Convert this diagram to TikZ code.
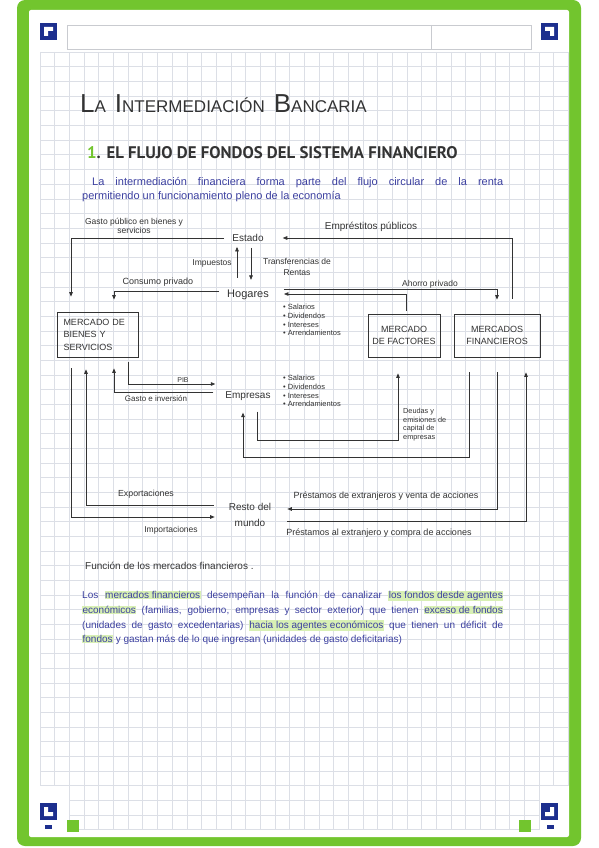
\documentclass[tikz,border=0pt]{standalone}
\usepackage{fontspec}
\setmainfont{Liberation Sans}
\newfontfamily\encabezado{PT Sans}
\usetikzlibrary{arrows.meta,calc,positioning}
\definecolor{MarcoVerde}{HTML}{72C52E}
\definecolor{IconoAzul}{HTML}{1D2F8E}
\definecolor{Cuadricula}{HTML}{DCDFE6}
\definecolor{LineaCabecera}{HTML}{C9CBD0}
\definecolor{Tinta}{HTML}{333333}
\definecolor{TintaAzul}{HTML}{3C40A0}
\definecolor{Resalte}{HTML}{D8F0B4}
\newcommand\versal[2]{{\fontsize{26}{26}\selectfont #1}{\fontsize{17}{17}\selectfont #2}}
\newcommand\resalto[1]{{\setlength{\fboxsep}{0.4pt}\colorbox{Resalte}{#1}}}

\begin{document}
\begin{tikzpicture}[x=1pt,y=-1pt,
    cuadro/.style={draw=Cuadricula,line width=0.4pt},
    lugar/.style={text=Tinta,font=\fontsize{10}{16}\selectfont,
      inner xsep=8pt,inner ysep=2pt},
    mercado/.style={draw=Tinta,line width=0.8pt,text=Tinta,inner sep=0pt,
      minimum height=43pt,font=\fontsize{9}{12.5}\selectfont},
    etiqueta/.style={text=Tinta,inner sep=0pt,
      font=\fontsize{8.5}{9}\selectfont},
    flujo/.style={draw=Tinta,line width=0.7pt,
      -{Triangle[length=4.5pt,width=3.6pt]}},
    parrafo/.style={text=TintaAzul,inner sep=0pt,text width=421pt,
      align=justify,anchor=north west}]
  \useasboundingbox (0,0) rectangle (599,848);
  \fill[white] (0,0) rectangle (599,848);

  % hoja
  \fill[MarcoVerde,rounded corners=8pt] (17,0) rectangle (581,846);
  \fill[white,rounded corners=2pt] (29,10) rectangle (569,837);
  \foreach \i in {0,...,36}
    \draw[cuadro] ({40+14.67*\i},52) -- ({40+14.67*\i},785.5);
  \foreach \j in {0,...,50}
    \draw[cuadro] (40,{52+14.67*\j}) -- (568,{52+14.67*\j});
  \foreach \i in {2,...,34}
    \draw[cuadro] ({40+14.67*\i},785.5) -- ({40+14.67*\i},829.5);
  \foreach \j in {1,2,3}
    \draw[cuadro] (69.3,{785.5+14.67*\j}) -- (538.8,{785.5+14.67*\j});
  \draw[LineaCabecera,line width=0.6pt] (67,25) rectangle (531,49);
  \draw[LineaCabecera,line width=0.6pt] (431,25) -- (431,49);

  % iconos de esquina
  \fill[IconoAzul] (40,23) rectangle (57,40);
  \fill[white] (44,27) -- (53,27) -- (53,31) -- (48,31) -- (48,36)
    -- (44,36) -- cycle;
  \fill[IconoAzul] (541,23) rectangle (558,40);
  \fill[white] (545,27) -- (554,27) -- (554,36) -- (550,36) -- (550,31)
    -- (545,31) -- cycle;
  \fill[IconoAzul] (40,803) rectangle (57,820);
  \fill[white] (44,807) -- (48,807) -- (48,812) -- (53,812) -- (53,816)
    -- (44,816) -- cycle;
  \fill[IconoAzul] (541,803) rectangle (558,820);
  \fill[white] (550,807) -- (554,807) -- (554,816) -- (545,816)
    -- (545,812) -- (550,812) -- cycle;
  \fill[IconoAzul] (45,825) rectangle (52,829);
  \fill[IconoAzul] (547,825) rectangle (554,829);
  \fill[MarcoVerde] (67,820) rectangle (79,832);
  \fill[MarcoVerde] (519,820) rectangle (531,832);

  % titulos
  \node[anchor=base west,text=Tinta,inner sep=0pt] (titulo) at (80,113)
    {\versal{L}{A}\hspace{9pt}\versal{I}{NTERMEDIACIÓN}\hspace{9pt}\versal{B}{ANCARIA}};
  \node[anchor=base west,text=Tinta,inner sep=0pt,
    font=\encabezado\bfseries\fontsize{16.8}{17}\selectfont] (seccion) at (87,158)
    {\textcolor{MarcoVerde}{1}. EL FLUJO DE FONDOS DEL SISTEMA FINANCIERO};
  \node[parrafo,font=\fontsize{11}{14.5}\selectfont] (intro) at (82,177)
    {\hspace*{10pt}La intermediación financiera forma parte del flujo circular de la renta\linebreak
     permitiendo un funcionamiento pleno de la economía};

  % lugares
  \node[lugar] (estado) at (248,238) {Estado};
  \node[lugar,font=\fontsize{11}{16}\selectfont] (hogares) at (248,295) {Hogares};
  \node[lugar] (empresas) at (248,396) {Empresas};
  \node[lugar,align=center] (resto) at (250,515) {Resto del\\mundo};

  % mercados
  \node[mercado,minimum width=81pt,minimum height=45pt,text width=68pt,
    align=left] (bienes) at (97.5,334.5) {MERCADO DE\\BIENES Y\\SERVICIOS};
  \node[mercado,minimum width=72pt,align=center] (factores) at (404,335.5)
    {MERCADO\\DE FACTORES};
  \node[mercado,minimum width=86pt,align=center] (financieros) at (497,335.5)
    {MERCADOS\\FINANCIEROS};

  % flujos
  \coordinate (codoDeudas) at (398,440);
  \coordinate (codoFin) at (243,457);
  \draw[flujo,shorten >=15pt] (estado.west) -| ([xshift=-26.5pt]bienes.north);
  \draw[flujo,shorten <=15pt] ([xshift=15pt]financieros.north)
    |- ([xshift=11pt]estado.east);
  \draw[flujo,shorten <=10pt,shorten >=3pt] ([xshift=-11pt]hogares.north)
    -- ([xshift=-11pt]estado.south);
  \draw[flujo,shorten <=4pt,shorten >=8pt] ([xshift=3pt]estado.south)
    -- ([xshift=3pt]hogares.north);
  \draw[flujo,shorten >=12pt] ([yshift=4pt]hogares.west)
    -| ([xshift=16.5pt]bienes.north);
  \draw[flujo,shorten >=14pt] ([xshift=7pt,yshift=6pt]hogares.east)
    -| (financieros.north);
  \draw[flujo,shorten <=3pt] ([xshift=2pt]factores.north)
    |- ([xshift=7pt,yshift=1pt]hogares.east);
  \draw[flujo,shorten <=5pt] ([xshift=-10pt]bienes.south east)
    |- ([xshift=-2pt,yshift=12pt]empresas.west);
  \draw[flujo,shorten >=11pt] ([xshift=-4pt,yshift=4pt]empresas.west)
    -| ([xshift=16.5pt]bienes.south);
  \draw[flujo,shorten <=9pt,shorten >=16pt] ([xshift=9pt]empresas.south)
    |- (codoDeudas) -- ([xshift=-6pt]factores.south);
  \draw[flujo,shorten <=15pt,shorten >=10pt] ([xshift=-28pt]financieros.south)
    |- (codoFin) -- ([xshift=-5pt]empresas.south);
  \draw[flujo,shorten >=12pt] ([xshift=-7pt,yshift=10pt]resto.west)
    -| ([xshift=-11.5pt]bienes.south);
  \draw[flujo,shorten <=11pt] ([xshift=-26.5pt]bienes.south)
    |- ([xshift=-6pt,yshift=-2pt]resto.west);
  \draw[flujo,shorten <=15pt] (financieros.south)
    |- ([xshift=8pt,yshift=6pt]resto.east);
  \draw[flujo,shorten >=15pt] ([xshift=8pt,yshift=-6pt]resto.east)
    -| ([xshift=29pt]financieros.south);

  % etiquetas
  \node[etiqueta,align=center,font=\fontsize{8.5}{7}\selectfont] (lblGasto)
    at (134,226) {Gasto público en bienes y\\servicios};
  \node[etiqueta,font=\fontsize{10}{10}\selectfont] (lblEmprest) at (371,227)
    {Empréstitos públicos};
  \node[etiqueta] (lblImpuestos) at (212,263) {Impuestos};
  \node[etiqueta,align=center,font=\fontsize{8.5}{11}\selectfont] (lblTransf)
    at (297,267) {Transferencias de\\Rentas};
  \node[etiqueta,font=\fontsize{9}{9}\selectfont] (lblConsumo) at (158,282)
    {Consumo privado};
  \node[etiqueta] (lblAhorro) at (430,284) {Ahorro privado};
  \node[etiqueta,anchor=north west,align=left,font=\fontsize{7.5}{8.7}\selectfont]
    (lblRentasHog) at (283,304)
    {• Salarios\\• Dividendos\\• Intereses\\• Arrendamientos};
  \node[etiqueta,anchor=north west,align=left,font=\fontsize{7.5}{8.7}\selectfont]
    (lblRentasEmp) at (283,375)
    {• Salarios\\• Dividendos\\• Intereses\\• Arrendamientos};
  \node[etiqueta,font=\fontsize{7}{7}\selectfont] (lblPIB) at (183,380) {PIB};
  \node[etiqueta,font=\fontsize{8}{8}\selectfont] (lblInversion) at (156,399)
    {Gasto e inversión};
  \node[etiqueta,anchor=north west,align=left,font=\fontsize{7.3}{8.7}\selectfont]
    (lblDeudas) at (403,408) {Deudas y\\emisiones de\\capital de\\empresas};
  \node[etiqueta,font=\fontsize{8.8}{9}\selectfont] (lblExport) at (146,494)
    {Exportaciones};
  \node[etiqueta] (lblImport) at (171,530) {Importaciones};
  \node[etiqueta,font=\fontsize{9}{9}\selectfont] (lblPrestDe) at (386,496)
    {Préstamos de extranjeros y venta de acciones};
  \node[etiqueta,font=\fontsize{9}{9}\selectfont] (lblPrestAl) at (379,533)
    {Préstamos al extranjero y compra de acciones};

  % funcion de los mercados
  \node[anchor=base west,text=Tinta,inner sep=0pt,font=\fontsize{10}{10}\selectfont]
    (funcion) at (85,569) {Función de los mercados financieros .};
  \node[parrafo,font=\fontsize{10}{14.7}\selectfont] (definicion) at (82,591)
    {Los \resalto{mercados financieros} desempeñan la función de canalizar \resalto{los fondos desde agentes}\linebreak
     \resalto{económicos} (familias, gobierno, empresas y sector exterior) que tienen \resalto{exceso de fondos}\linebreak
     (unidades de gasto excedentarias) \resalto{hacia los agentes económicos} que tienen un déficit de\linebreak
     \resalto{fondos} y gastan más de lo que ingresan (unidades de gasto deficitarias)};
\end{tikzpicture}
\end{document}
